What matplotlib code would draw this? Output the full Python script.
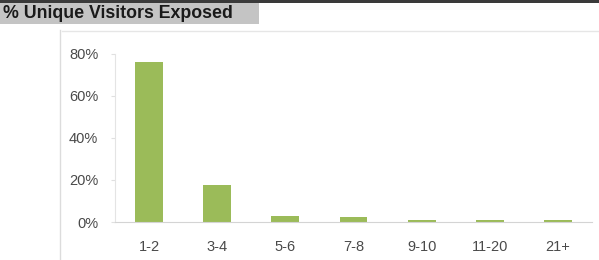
import matplotlib
matplotlib.use("Agg")
import matplotlib.pyplot as plt
from matplotlib.patches import Rectangle
from matplotlib.lines import Line2D
from matplotlib.ticker import FuncFormatter

categories = ["1-2", "3-4", "5-6", "7-8", "9-10", "11-20", "21+"]
values = [76, 17.6, 3, 2.5, 1, 1, 0.8]
yticks = [0, 20, 40, 60, 80]
title = "% Unique Visitors Exposed"

W, H = 599, 260
fig = plt.figure(figsize=(W / 100, H / 100), dpi=100)
fig.patch.set_facecolor("white")

# top dark rule and title box
fig.add_artist(Rectangle((0, 1 - 3 / H), 1, 3 / H, transform=fig.transFigure,
                         facecolor="#3a3a3a", edgecolor="none"))
fig.add_artist(Rectangle((0, 1 - 24 / H), 259 / W, 21 / H, transform=fig.transFigure,
                         facecolor="#c4c4c4", edgecolor="none"))
fig.text(3 / W, 1 - 13.5 / H, title, ha="left", va="center", fontsize=12.8,
         fontweight="bold", family="Liberation Sans", color="#1a1a1a")

# chart frame lines
fig.add_artist(Line2D([60 / W, 60 / W], [0, 1 - 30 / H], transform=fig.transFigure,
                      color="#dcdcdc", lw=1))
fig.add_artist(Line2D([62 / W, 1], [1 - 31 / H, 1 - 31 / H], transform=fig.transFigure,
                      color="#e6e6e6", lw=1))

ax = fig.add_axes([115 / W, 1 - 222 / H, (592 - 115) / W, (222 - 54) / H])
x = range(len(categories))
ax.bar(x, values, width=0.41, color="#9bbb59", edgecolor="none")
ax.set_xlim(-0.5, len(categories) - 0.5)
ax.set_ylim(0, 80)
ax.set_yticks(yticks)
ax.yaxis.set_major_formatter(FuncFormatter(lambda v, p: f"{int(v)}%"))
ax.set_xticks(list(x))
ax.set_xticklabels(categories)
for s in ["top", "right"]:
    ax.spines[s].set_visible(False)
ax.spines["left"].set_color("#e4e4e4")
ax.spines["bottom"].set_color("#d4d4d4")
ax.tick_params(axis="y", length=3, color="#e0e0e0", labelsize=10.5, labelcolor="#4a4a4a", pad=9)
ax.tick_params(axis="x", length=0, labelsize=10.5, labelcolor="#4a4a4a", pad=13)
for lbl in ax.get_xticklabels() + ax.get_yticklabels():
    lbl.set_family("Liberation Sans")

fig.savefig("out.png", dpi=100)
